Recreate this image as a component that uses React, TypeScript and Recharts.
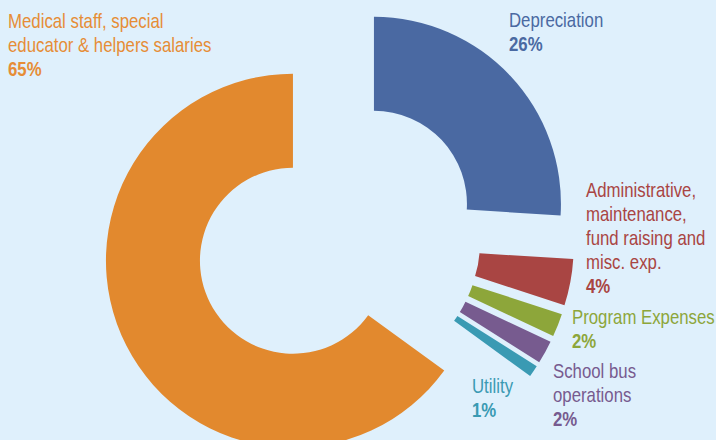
import { PieChart, Pie, Cell, Sector } from "recharts"

// expense breakdown, clockwise from 12 o'clock
const categories = [
  "Depreciation",
  "Administrative, maintenance, fund raising and misc. exp.",
  "Program Expenses",
  "School bus operations",
  "Utility",
  "Medical staff, special educator & helpers salaries",
]
const shares = [26, 4, 2, 2, 1, 65]

// how each label is broken into lines
const labelLines = [
  ["Depreciation"],
  ["Administrative,", "maintenance,", "fund raising and", "misc. exp."],
  ["Program Expenses"],
  ["School bus", "operations"],
  ["Utility"],
  ["Medical staff, special", "educator & helpers salaries"],
]

const COLORS = ["#4a69a2", "#a94543", "#8da63a", "#775b8f", "#3a9ab3", "#e2892e"]
const TEXT_COLORS = ["#4a69a2", "#a94543", "#8da63a", "#775b8f", "#3a9ab3", "#e68d36"]
const BG = "#dff0fc"
const FONT = "'Liberation Sans', Arial, sans-serif"

// where each label block sits (left x, first baseline)
const LABEL_POS = [
  [509, 27],
  [586, 197],
  [572, 324],
  [553, 378],
  [472, 393],
  [8, 28],
]
const EXPLODE = 50
const LINE_H = 24

const data = categories.map((name, i) => ({ name, value: shares[i] }))

const renderSlice = (props: any) => {
  const { cx, cy, innerRadius, outerRadius, startAngle, endAngle, midAngle, index } = props
  const rad = Math.PI / 180
  const dx = EXPLODE * Math.cos(-midAngle * rad)
  const dy = EXPLODE * Math.sin(-midAngle * rad)
  const [lx, ly] = LABEL_POS[index]
  const lines = labelLines[index]
  return (
    <g>
      <Sector
        cx={cx + dx}
        cy={cy + dy}
        innerRadius={innerRadius}
        outerRadius={outerRadius}
        startAngle={startAngle}
        endAngle={endAngle}
        fill={COLORS[index]}
        stroke="none"
      />
      {/* narrow face faked by squeezing Liberation Sans */}
      <text
        transform={`translate(${lx} ${ly}) scale(0.84 1)`}
        fill={TEXT_COLORS[index]}
        fontFamily={FONT}
        fontSize={20}
      >
        {lines.map((l, i) => (
          <tspan key={i} x={0} y={i * LINE_H}>{l}</tspan>
        ))}
        <tspan x={0} y={lines.length * LINE_H} fontWeight="bold">
          {shares[index]}%
        </tspan>
      </text>
    </g>
  )
}

export default function App() {
  return (
    <div style={{ width: 716, height: 440, background: BG }}>
      <style>{"body{margin:0}"}</style>
      <PieChart width={716} height={440} margin={{ top: 0, right: 0, bottom: 0, left: 0 }}>
        <Pie
          data={data}
          dataKey="value"
          nameKey="name"
          cx={337.5}
          cy={238}
          innerRadius={93}
          outerRadius={187}
          startAngle={90}
          endAngle={-270}
          stroke="none"
          label={renderSlice}
          labelLine={false}
          isAnimationActive={false}
        >
          {data.map((d) => (
            <Cell key={d.name} fill="none" />
          ))}
        </Pie>
      </PieChart>
    </div>
  )
}
